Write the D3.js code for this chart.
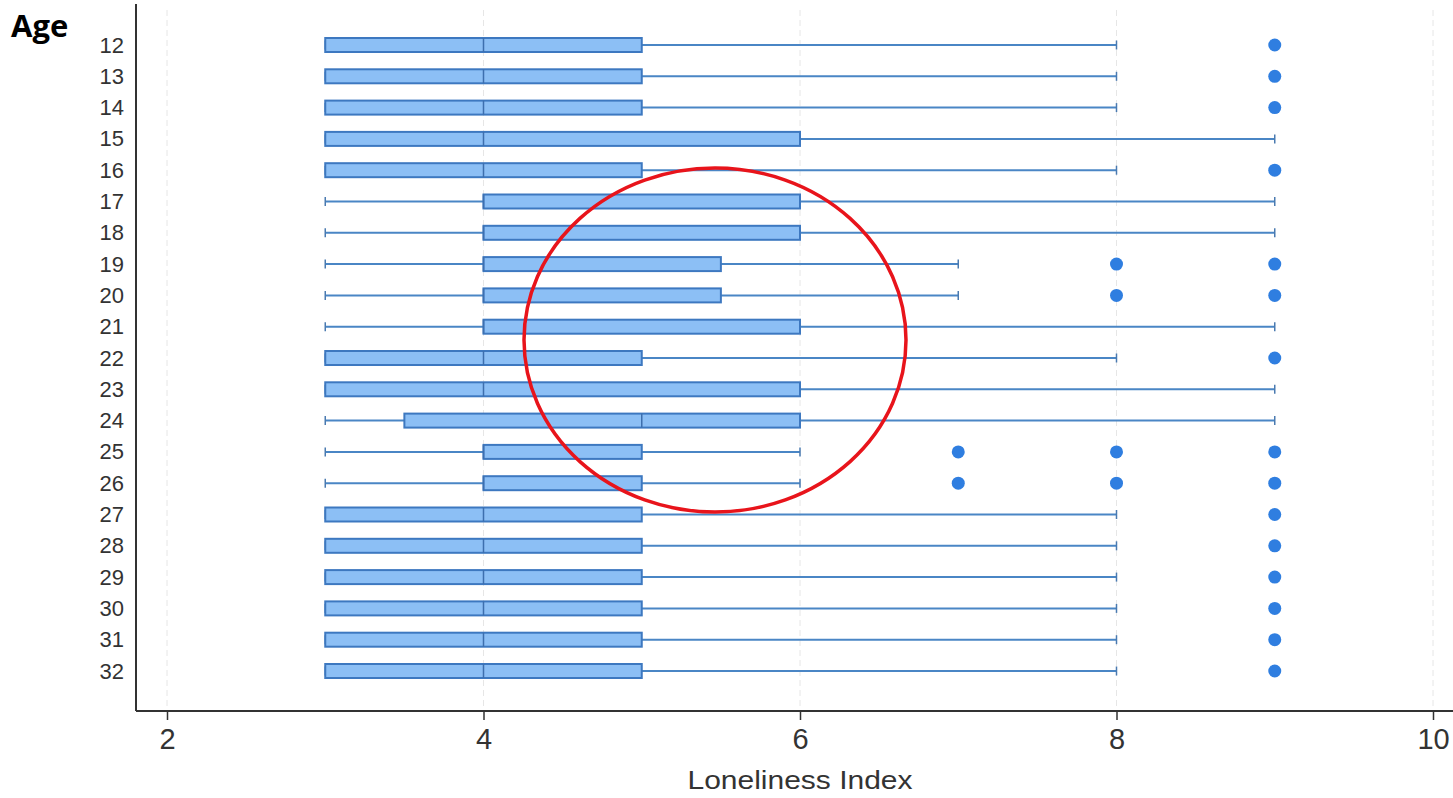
<!DOCTYPE html>
<html>
<head>
<meta charset="utf-8">
<script src="https://cdn.jsdelivr.net/npm/d3@7"></script>
<style>
  body { margin: 0; background: #fff; }
  svg { display: block; }
</style>
</head>
<body>
<div id="chart"></div>
<script>
// box plot stats per age
const ages = [12,13,14,15,16,17,18,19,20,21,22,23,24,25,26,27,28,29,30,31,32];
const lowW   = [3,3,3,3,3,3,3,3,3,3,3,3,3,3,3,3,3,3,3,3,3];
const q1     = [3,3,3,3,3,4,4,4,4,4,3,3,3.5,4,4,3,3,3,3,3,3];
const median = [4,4,4,4,4,4,4,4,4,4,4,4,5,4,4,4,4,4,4,4,4];
const q3     = [5,5,5,6,5,6,6,5.5,5.5,6,5,6,6,5,5,5,5,5,5,5,5];
const highW  = [8,8,8,9,8,9,9,7,7,9,8,9,9,6,6,8,8,8,8,8,8];
const outliers = [[9],[9],[9],[],[9],[],[],[8,9],[8,9],[],[9],[],[],[7,8,9],[7,8,9],[9],[9],[9],[9],[9],[9]];
const xTicks = [2,4,6,8,10];

const W = 1453, H = 798;
const svg = d3.select("#chart").append("svg")
  .attr("width", W).attr("height", H);

const x = d3.scaleLinear().domain([2, 10]).range([167, 1433]);
const y = d3.scalePoint().domain(ages).range([45, 671]);

const axisY = 711, axisX = 136;
const boxH = 14, capH = 9;
const font = "Liberation Sans, Arial, sans-serif";

const rows = ages.map((a, i) => ({
  age: a, lo: lowW[i], q1: q1[i], med: median[i], q3: q3[i], hi: highW[i], out: outliers[i]
}));

// faint dashed grid
svg.selectAll(".grid")
  .data(xTicks)
  .enter().append("line")
  .attr("x1", d => x(d)).attr("x2", d => x(d))
  .attr("y1", 10).attr("y2", axisY)
  .attr("stroke", "#e6e6e6")
  .attr("stroke-dasharray", "6,4")
  .attr("stroke-width", 1);

const g = svg.selectAll(".row")
  .data(rows)
  .enter().append("g")
  .attr("transform", d => `translate(0,${y(d.age)})`);

// whiskers
g.append("line")
  .attr("x1", d => x(d.lo)).attr("x2", d => x(d.hi))
  .attr("y1", 0).attr("y2", 0)
  .attr("stroke", "#4a86c5").attr("stroke-width", 2);

g.selectAll(".cap")
  .data(d => [d.lo, d.hi])
  .enter().append("line")
  .attr("x1", d => x(d)).attr("x2", d => x(d))
  .attr("y1", -capH / 2).attr("y2", capH / 2)
  .attr("stroke", "#4a7ab0").attr("stroke-width", 1.5);

// boxes
g.append("rect")
  .attr("x", d => x(d.q1))
  .attr("width", d => x(d.q3) - x(d.q1))
  .attr("y", -boxH / 2).attr("height", boxH)
  .attr("fill", "#8cbff5")
  .attr("stroke", "#3d78c0").attr("stroke-width", 2);

g.append("line")
  .attr("x1", d => x(d.med)).attr("x2", d => x(d.med))
  .attr("y1", -boxH / 2).attr("y2", boxH / 2)
  .attr("stroke", "#3d6fae").attr("stroke-width", 1.5);

// outliers
g.selectAll(".out")
  .data(d => d.out)
  .enter().append("circle")
  .attr("cx", d => x(d)).attr("cy", 0).attr("r", 6.5)
  .attr("fill", "#2f7ee0");

// axes
const xAxis = svg.append("g")
  .attr("transform", `translate(0,${axisY})`)
  .call(d3.axisBottom(x).tickValues(xTicks).tickSize(9).tickPadding(8));
xAxis.select(".domain").remove();
xAxis.selectAll("text").attr("font-size", 29).attr("fill", "#333")
  .attr("font-family", font);
xAxis.selectAll("line").attr("stroke", "#333").attr("stroke-width", 1.5);

svg.append("line")
  .attr("x1", axisX).attr("x2", W).attr("y1", axisY).attr("y2", axisY)
  .attr("stroke", "#333").attr("stroke-width", 2);

svg.append("line")
  .attr("x1", axisX).attr("x2", axisX).attr("y1", 4).attr("y2", axisY)
  .attr("stroke", "#333").attr("stroke-width", 2);

const yAxis = svg.append("g")
  .attr("transform", `translate(${axisX},0)`)
  .call(d3.axisLeft(y).tickSize(0).tickPadding(12));
yAxis.select(".domain").remove();
yAxis.selectAll("text").attr("font-size", 22).attr("fill", "#333")
  .attr("font-family", font);

svg.append("text")
  .attr("x", 800).attr("y", 789)
  .attr("text-anchor", "middle")
  .attr("font-family", font)
  .attr("font-size", 25).attr("fill", "#333")
  .attr("textLength", 225).attr("lengthAdjust", "spacingAndGlyphs")
  .text("Loneliness Index");

svg.append("text")
  .attr("x", 11).attr("y", 37)
  .attr("font-family", "Open Sans, sans-serif")
  .attr("font-weight", "bold")
  .attr("font-size", 31).attr("fill", "#000")
  .text("Age");

// red highlight ellipse
svg.append("ellipse")
  .attr("cx", 715).attr("cy", 340)
  .attr("rx", 191).attr("ry", 172)
  .attr("fill", "none")
  .attr("stroke", "#e8141b").attr("stroke-width", 3.5);
</script>
</body>
</html>
